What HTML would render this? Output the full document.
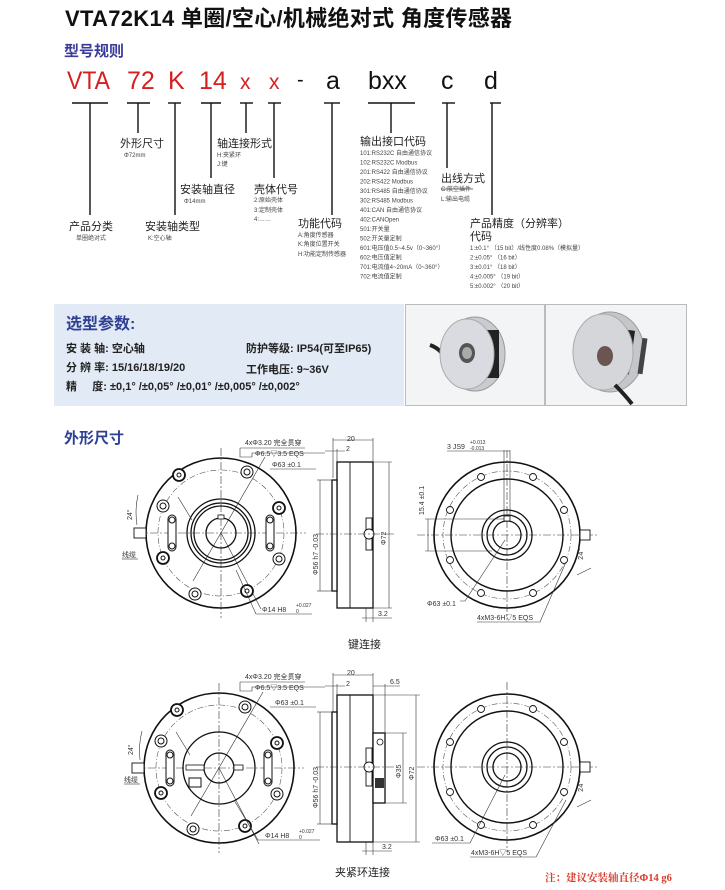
<!DOCTYPE html>
<html><head><meta charset="utf-8"><style>
html,body{margin:0;padding:0;background:#fff}
svg{display:block}
text{font-family:"Liberation Sans","Noto Sans CJK SC",sans-serif}
.s{font-family:"Liberation Serif","Noto Serif CJK SC",serif}
.m{font-family:"Liberation Mono","Noto Sans CJK SC",monospace}
</style></head><body>
<svg width="725" height="890" viewBox="0 0 725 890" xmlns="http://www.w3.org/2000/svg">
<rect width="725" height="890" fill="#fff"/>
<!-- title -->
<text x="65" y="26" font-size="22" font-weight="bold" fill="#111" textLength="447" lengthAdjust="spacing">VTA72K14 单圈/空心/机械绝对式 角度传感器</text>
<text x="64" y="56" font-size="15" font-weight="bold" fill="#3b3b9c">型号规则</text>
<!-- code -->
<g font-size="25" fill="#d42020">
<text x="67" y="89" textLength="43" lengthAdjust="spacingAndGlyphs">VTA</text><text x="127" y="89">72</text><text x="168" y="89">K</text><text x="199" y="89">14</text>
<text x="240" y="89" font-size="21">x</text><text x="269" y="89" font-size="21">x</text>
</g>
<g font-size="25" fill="#111">
<text x="297" y="86" font-size="20">-</text><text x="326" y="89">a</text><text x="368" y="89">bxx</text><text x="441" y="89">c</text><text x="484" y="89">d</text>
</g>
<g stroke="#111" stroke-width="1.4">
<line x1="72" y1="103" x2="108" y2="103"/><line x1="90" y1="103" x2="90" y2="215"/>
<line x1="127" y1="103" x2="150" y2="103"/><line x1="138" y1="103" x2="138" y2="133"/>
<line x1="168" y1="103" x2="181" y2="103"/><line x1="175" y1="103" x2="175" y2="215"/>
<line x1="201" y1="103" x2="221" y2="103"/><line x1="211" y1="103" x2="211" y2="178"/>
<line x1="240" y1="103" x2="253" y2="103"/><line x1="246" y1="103" x2="246" y2="133"/>
<line x1="268" y1="103" x2="281" y2="103"/><line x1="274" y1="103" x2="274" y2="178"/>
<line x1="324" y1="103" x2="340" y2="103"/><line x1="332" y1="103" x2="332" y2="215"/>
<line x1="368" y1="103" x2="415" y2="103"/><line x1="391" y1="103" x2="391" y2="133"/>
<line x1="442" y1="103" x2="455" y2="103"/><line x1="447" y1="103" x2="447" y2="168"/>
<line x1="490" y1="103" x2="501" y2="103"/><line x1="492" y1="103" x2="492" y2="215"/>
</g>
<g font-size="11" fill="#222">
<text x="120" y="147">外形尺寸</text>
<text x="217" y="147">轴连接形式</text>
<text x="180" y="193">安装轴直径</text>
<text x="254" y="193">壳体代号</text>
<text x="69" y="230">产品分类</text>
<text x="145" y="230">安装轴类型</text>
<text x="298" y="227">功能代码</text>
<text x="360" y="145">输出接口代码</text>
<text x="441" y="182">出线方式</text>
<text x="470" y="227">产品精度（分辨率）</text>
<text x="470" y="240">代码</text>
</g>
<g class="s" font-size="6" fill="#444">
<text x="124" y="157">Φ72mm</text>
<text x="217" y="157">H:夹紧环</text><text x="217" y="166">J:键</text>
<text x="184" y="203">Φ14mm</text>
<text x="254" y="202">2:原始壳体</text><text x="254" y="212">3:定制壳体</text><text x="254" y="221">4:……</text>
<text x="76" y="240">单圈绝对式</text>
<text x="148" y="240">K:空心轴</text>
<text x="298" y="237">A:角度传感器</text><text x="298" y="246">K:角度位置开关</text><text x="298" y="256">H:功能定制传感器</text>
<text x="360" y="155">101:RS232C 自由通信协议</text>
<text x="360" y="164.5">102:RS232C Modbus</text>
<text x="360" y="174">201:RS422 自由通信协议</text>
<text x="360" y="183.5">202:RS422 Modbus</text>
<text x="360" y="193">301:RS485 自由通信协议</text>
<text x="360" y="202.5">302:RS485 Modbus</text>
<text x="360" y="212">401:CAN 自由通信协议</text>
<text x="360" y="221.5">402:CANOpen</text>
<text x="360" y="231">501:开关量</text>
<text x="360" y="240.5">502:开关量定制</text>
<text x="360" y="250">601:电压值0.5~4.5v（0~360°）</text>
<text x="360" y="259.5">602:电压值定制</text>
<text x="360" y="269">701:电流值4~20mA（0~360°）</text>
<text x="360" y="278.5">702:电流值定制</text>
<text x="441" y="191">C:航空插件</text><line x1="441" y1="189" x2="473" y2="189" stroke="#444" stroke-width="0.8"/>
<text x="441" y="201">L:输出电缆</text>
<text x="470" y="250">1:±0.1° （15 bit）/线性度0.08%（模拟量）</text>
<text x="470" y="259.5">2:±0.05° （16 bit）</text>
<text x="470" y="269">3:±0.01° （18 bit）</text>
<text x="470" y="278.5">4:±0.005° （19 bit）</text>
<text x="470" y="288">5:±0.002° （20 bit）</text>
</g>
<!-- params panel -->
<rect x="54" y="304" width="350" height="102" fill="#e2ebf5"/>
<text x="66" y="329" font-size="16" font-weight="bold" fill="#2e3f94">选型参数:</text>
<g font-size="11" font-weight="bold" fill="#222">
<text x="66" y="352">安 装 轴: 空心轴</text>
<text x="246" y="352">防护等级: IP54(可至IP65)</text>
<text x="66" y="371">分 辨 率: 15/16/18/19/20</text>
<text x="246" y="373">工作电压: 9~36V</text>
<text x="66" y="390">精 &#160; &#160; 度: ±0,1° /±0,05° /±0,01° /±0,005° /±0,002°</text>
</g>
<!-- photos -->
<rect x="405.5" y="304.5" width="139" height="101" fill="#f3f4f6" stroke="#bbb"/>
<rect x="545.5" y="304.5" width="141" height="101" fill="#f3f4f6" stroke="#bbb"/>
<path d="M430 345 Q445 350 448 368" stroke="#222" stroke-width="4" fill="none"/>
<ellipse cx="475" cy="354" rx="30" ry="37" fill="#c9cbd0" stroke="#999"/>
<rect x="487" y="330" width="12" height="48" fill="#222"/>
<ellipse cx="467" cy="354" rx="27" ry="35" fill="#d9dbe0" stroke="#aaa"/>
<ellipse cx="467" cy="353" rx="8" ry="10" fill="#555"/>
<ellipse cx="467" cy="353" rx="5" ry="6" fill="#aaa"/>
<ellipse cx="610" cy="352" rx="34" ry="40" fill="#c4c6ca" stroke="#999"/>
<rect x="622" y="330" width="10" height="44" fill="#222" transform="rotate(8 627 352)"/>
<ellipse cx="603" cy="352" rx="30" ry="38" fill="#d4d6da" stroke="#aaa"/>
<ellipse cx="605" cy="356" rx="8" ry="10" fill="#6a5550"/>
<rect x="640" y="338" width="5" height="36" fill="#444" transform="rotate(8 642 356)"/>
<path d="M615 385 Q625 395 632 404" stroke="#222" stroke-width="4" fill="none"/>
<!-- 外形尺寸 -->
<text x="64" y="443" font-size="15" font-weight="bold" fill="#2e3f94">外形尺寸</text>

<defs>
<g id="front">
  <circle r="75" fill="none" stroke="#111" stroke-width="1.6"/>
  <circle r="63" fill="none" stroke="#555" stroke-width="0.6" stroke-dasharray="6 2 1 2"/>
  <line x1="-85" y1="0" x2="85" y2="0" stroke="#333" stroke-width="0.6" stroke-dasharray="8 2 2 2"/>
  <line x1="0" y1="-85" x2="0" y2="85" stroke="#333" stroke-width="0.6" stroke-dasharray="8 2 2 2"/>
  <line x1="-28" y1="48" x2="44" y2="-76" stroke="#333" stroke-width="0.6"/>
  <line x1="0" y1="0" x2="40" y2="76" stroke="#333" stroke-width="0.6"/>
  <g fill="#fff" stroke="#111" stroke-width="1">
   <circle cx="-42" cy="-58" r="6" stroke-width="1.8"/><circle cx="-42" cy="-58" r="2"/>
   <circle cx="26" cy="-61" r="6"/><circle cx="26" cy="-61" r="3"/>
   <circle cx="-58" cy="-27" r="6"/><circle cx="-58" cy="-27" r="3"/>
   <circle cx="58" cy="-25" r="6" stroke-width="1.8"/><circle cx="58" cy="-25" r="2"/>
   <circle cx="-58" cy="25" r="6" stroke-width="1.8"/><circle cx="-58" cy="25" r="2"/>
   <circle cx="58" cy="26" r="6"/><circle cx="58" cy="26" r="3"/>
   <circle cx="-26" cy="61" r="6"/><circle cx="-26" cy="61" r="3"/>
   <circle cx="26" cy="58" r="6" stroke-width="1.8"/><circle cx="26" cy="58" r="2"/>
   <rect x="-53" y="-18" width="8" height="36" rx="4"/>
   <rect x="45" y="-18" width="8" height="36" rx="4"/>
   <circle cx="-49" cy="-13" r="3"/><circle cx="-49" cy="13" r="3"/>
   <circle cx="49" cy="-13" r="3"/><circle cx="49" cy="13" r="3"/>
  </g>
  <rect x="-87" y="-5" width="12" height="10" fill="#fff" stroke="#111" stroke-width="0.9"/>
</g>
<g id="rear">
  <circle r="73" fill="none" stroke="#111" stroke-width="1.6"/>
  <circle r="56" fill="none" stroke="#111" stroke-width="1.4"/>
  <circle r="64" fill="none" stroke="#555" stroke-width="0.6" stroke-dasharray="6 2 1 2"/>
  <line x1="-90" y1="0" x2="90" y2="0" stroke="#333" stroke-width="0.6" stroke-dasharray="8 2 2 2"/>
  <line x1="0" y1="-85" x2="0" y2="85" stroke="#333" stroke-width="0.6" stroke-dasharray="8 2 2 2"/>
  <g fill="#fff" stroke="#111" stroke-width="0.9">
   <circle cx="-26" cy="-58" r="3.5"/><circle cx="26" cy="-58" r="3.5"/>
   <circle cx="-57" cy="-25" r="3.5"/><circle cx="57" cy="-25" r="3.5"/>
   <circle cx="-57" cy="25" r="3.5"/><circle cx="57" cy="25" r="3.5"/>
   <circle cx="-26" cy="58" r="3.5"/><circle cx="26" cy="58" r="3.5"/>
  </g>
  <rect x="73" y="-5" width="10" height="10" fill="#fff" stroke="#111" stroke-width="0.9"/>
  <line x1="70" y1="40" x2="84" y2="33" stroke="#333" stroke-width="0.6"/>
  <text x="76" y="25" class="m" font-size="7" fill="#333" transform="rotate(-90 76 25)">24°</text>
</g>
</defs>

<g class="m" font-size="7" fill="#333" stroke="none">
<!-- drawing 1 front -->
<use href="#front" x="221" y="533"/>
<g fill="none" stroke="#111" stroke-width="1.3">
<circle cx="221" cy="533" r="34"/><circle cx="221" cy="533" r="30"/><circle cx="221" cy="533" r="27"/><circle cx="221" cy="533" r="15"/>
</g>
<rect x="218" y="515" width="6" height="4" fill="#fff" stroke="#111" stroke-width="0.8"/>
<line x1="178" y1="497" x2="192" y2="520" stroke="#333" stroke-width="0.6"/>
<path d="M138 495 A80 80 0 0 0 137 525" fill="none" stroke="#333" stroke-width="0.6"/>
<text x="132" y="520" transform="rotate(-90 132 520)">24°</text>
<text x="122" y="557">线缆</text><line x1="122" y1="559" x2="138" y2="559" stroke="#333" stroke-width="0.6"/>
<text x="245" y="445">4xΦ3.20 完全贯穿</text>
<text x="255" y="456">Φ6.5▽3.5 EQS</text>
<polyline points="240,448 305,448" stroke="#333" stroke-width="0.6" fill="none"/>
<polyline points="240,448 240,457 252,457 252,453 325,453" stroke="#333" stroke-width="0.6" fill="none"/>
<text x="272" y="467">Φ63 ±0.1</text><line x1="270" y1="469" x2="316" y2="469" stroke="#333" stroke-width="0.6"/>
<text x="262" y="612">Φ14 H8</text><text x="296" y="607" font-size="5">+0.027</text><text x="296" y="613" font-size="5">0</text>
<polyline points="236,570 256,614 312,614" stroke="#333" stroke-width="0.6" fill="none"/>
<!-- side 1 -->
<g stroke="#111" stroke-width="1.3" fill="#fff">
<rect x="337" y="462" width="36" height="146"/>
<rect x="332" y="480" width="5" height="111"/>
</g>
<line x1="350" y1="462" x2="350" y2="608" stroke="#111" stroke-width="0.9"/>
<rect x="366" y="518" width="6" height="32" fill="#fff" stroke="#111" stroke-width="0.9"/>
<circle cx="369" cy="534" r="5" fill="#fff" stroke="#111" stroke-width="0.9"/>
<g stroke="#333" stroke-width="0.6" fill="none">
<line x1="333" y1="440" x2="373" y2="440"/><line x1="333" y1="438" x2="333" y2="478"/><line x1="373" y1="438" x2="373" y2="462"/>
<line x1="325" y1="451" x2="345" y2="451"/><line x1="337" y1="449" x2="337" y2="462"/>
<line x1="317" y1="480" x2="332" y2="480"/><line x1="317" y1="591" x2="332" y2="591"/><line x1="320" y1="480" x2="320" y2="591"/>
<line x1="373" y1="462" x2="392" y2="462"/><line x1="373" y1="608" x2="392" y2="608"/><line x1="389" y1="462" x2="389" y2="608"/>
<line x1="362" y1="618" x2="392" y2="618"/><line x1="366" y1="608" x2="366" y2="622"/><line x1="373" y1="608" x2="373" y2="622"/>
<line x1="316" y1="534" x2="395" y2="534" stroke-dasharray="8 2 2 2"/>
</g>
<text x="347" y="441">20</text><text x="346" y="451">2</text><text x="378" y="616">3.2</text>
<text x="318" y="575" transform="rotate(-90 318 575)">Φ56 h7 -0.03</text>
<text x="386" y="545" transform="rotate(-90 386 545)">Φ72</text>
<text x="348" y="648" font-size="11" fill="#222" font-family="Liberation Sans,Noto Sans CJK SC,sans-serif">键连接</text>

<!-- drawing 2 rear -->
<use href="#rear" x="507" y="535"/>
<g fill="none" stroke="#111" stroke-width="1.3">
<circle cx="507" cy="535" r="25"/><circle cx="507" cy="535" r="20"/><circle cx="507" cy="535" r="14"/>
</g>
<rect x="504" y="516" width="6" height="5" fill="#fff" stroke="#111" stroke-width="0.8"/>
<g stroke="#333" stroke-width="0.6" fill="none">
<line x1="447" y1="451" x2="510" y2="451"/><line x1="504" y1="450" x2="504" y2="520"/><line x1="510" y1="450" x2="510" y2="520"/>
<line x1="425" y1="519" x2="504" y2="519"/><line x1="425" y1="551" x2="492" y2="551"/><line x1="428" y1="519" x2="428" y2="551"/>
<polyline points="460,601 465,601 505,540"/>
<polyline points="477,622 540,622 566,562"/>
</g>
<text x="447" y="449">3 JS9</text><text x="470" y="444" font-size="5">+0.013</text><text x="470" y="450" font-size="5">-0.013</text>
<text x="424" y="515" transform="rotate(-90 424 515)">15.4 ±0.1</text>
<text x="427" y="606">Φ63 ±0.1</text>
<text x="477" y="620">4xM3-6H▽5 EQS</text>

<!-- drawing 3 front clamp -->
<use href="#front" x="219" y="768"/>
<g fill="none" stroke="#111" stroke-width="1.3">
<circle cx="219" cy="768" r="36"/><circle cx="219" cy="768" r="15"/>
</g>
<rect x="186" y="765" width="18" height="5" fill="#fff" stroke="#111" stroke-width="0.8"/>
<rect x="234" y="765" width="9" height="5" fill="#fff" stroke="#111" stroke-width="0.8"/>
<rect x="189" y="778" width="12" height="9" fill="#fff" stroke="#111" stroke-width="1"/>
<line x1="176" y1="732" x2="190" y2="755" stroke="#333" stroke-width="0.6"/>
<path d="M142 731 A80 80 0 0 0 140 760" fill="none" stroke="#333" stroke-width="0.6"/>
<text x="133" y="755" transform="rotate(-90 133 755)">24°</text>
<text x="124" y="782">线缆</text><line x1="124" y1="784" x2="140" y2="784" stroke="#333" stroke-width="0.6"/>
<text x="245" y="679">4xΦ3.20 完全贯穿</text>
<text x="255" y="690">Φ6.5▽3.5 EQS</text>
<polyline points="240,682 305,682" stroke="#333" stroke-width="0.6" fill="none"/>
<polyline points="240,682 240,691 252,691 252,687 325,687" stroke="#333" stroke-width="0.6" fill="none"/>
<text x="275" y="705">Φ63 ±0.1</text><line x1="270" y1="707" x2="316" y2="707" stroke="#333" stroke-width="0.6"/>
<text x="265" y="838">Φ14 H8</text><text x="299" y="833" font-size="5">+0.027</text><text x="299" y="839" font-size="5">0</text>
<polyline points="234,800 258,840 320,840" stroke="#333" stroke-width="0.6" fill="none"/>
<!-- side 3 -->
<g stroke="#111" stroke-width="1.3" fill="#fff">
<rect x="337" y="695" width="36" height="147"/>
<rect x="332" y="712" width="5" height="112"/>
<rect x="373" y="733" width="12" height="70"/>
</g>
<line x1="350" y1="695" x2="350" y2="842" stroke="#111" stroke-width="0.9"/>
<rect x="366" y="748" width="6" height="38" fill="#fff" stroke="#111" stroke-width="0.9"/>
<circle cx="369" cy="767" r="5" fill="#fff" stroke="#111" stroke-width="0.9"/>
<rect x="375" y="778" width="9" height="10" fill="#333"/>
<circle cx="380" cy="742" r="3" fill="#fff" stroke="#111" stroke-width="0.8"/>
<g stroke="#333" stroke-width="0.6" fill="none">
<line x1="333" y1="675" x2="373" y2="675"/><line x1="333" y1="673" x2="333" y2="712"/><line x1="373" y1="673" x2="373" y2="695"/>
<line x1="325" y1="686" x2="345" y2="686"/><line x1="337" y1="684" x2="337" y2="695"/>
<line x1="373" y1="686" x2="400" y2="686"/><line x1="385" y1="684" x2="385" y2="733"/>
<line x1="317" y1="712" x2="332" y2="712"/><line x1="317" y1="824" x2="332" y2="824"/><line x1="320" y1="712" x2="320" y2="824"/>
<line x1="385" y1="733" x2="407" y2="733"/><line x1="385" y1="803" x2="407" y2="803"/><line x1="403" y1="733" x2="403" y2="803"/>
<line x1="373" y1="695" x2="420" y2="695"/><line x1="373" y1="842" x2="420" y2="842"/><line x1="416" y1="695" x2="416" y2="842"/>
<line x1="362" y1="851" x2="392" y2="851"/><line x1="366" y1="842" x2="366" y2="855"/><line x1="373" y1="842" x2="373" y2="855"/>
<line x1="316" y1="767" x2="395" y2="767" stroke-dasharray="8 2 2 2"/>
</g>
<text x="347" y="675">20</text><text x="346" y="686">2</text><text x="390" y="684">6.5</text><text x="382" y="849">3.2</text>
<text x="318" y="808" transform="rotate(-90 318 808)">Φ56 h7 -0.03</text>
<text x="401" y="778" transform="rotate(-90 401 778)">Φ35</text>
<text x="414" y="780" transform="rotate(-90 414 780)">Φ72</text>
<text x="335" y="876" font-size="11" fill="#222" font-family="Liberation Sans,Noto Sans CJK SC,sans-serif">夹紧环连接</text>

<!-- drawing 4 rear clamp -->
<use href="#rear" x="507" y="767"/>
<g fill="none" stroke="#111" stroke-width="1.3">
<circle cx="507" cy="767" r="25"/><circle cx="507" cy="767" r="20"/><circle cx="507" cy="767" r="14"/>
</g>
<g stroke="#333" stroke-width="0.6" fill="none">
<polyline points="432,843 470,843 505,775"/>
<polyline points="470,857 536,857 566,800"/>
</g>
<text x="435" y="841">Φ63 ±0.1</text>
<text x="471" y="855">4xM3-6H▽5 EQS</text>
</g>
<text x="545" y="881" class="s" font-size="10.5" font-weight="bold" fill="#d83a2a">注：建议安装轴直径Φ14 g6</text>
</svg>
</body></html>
